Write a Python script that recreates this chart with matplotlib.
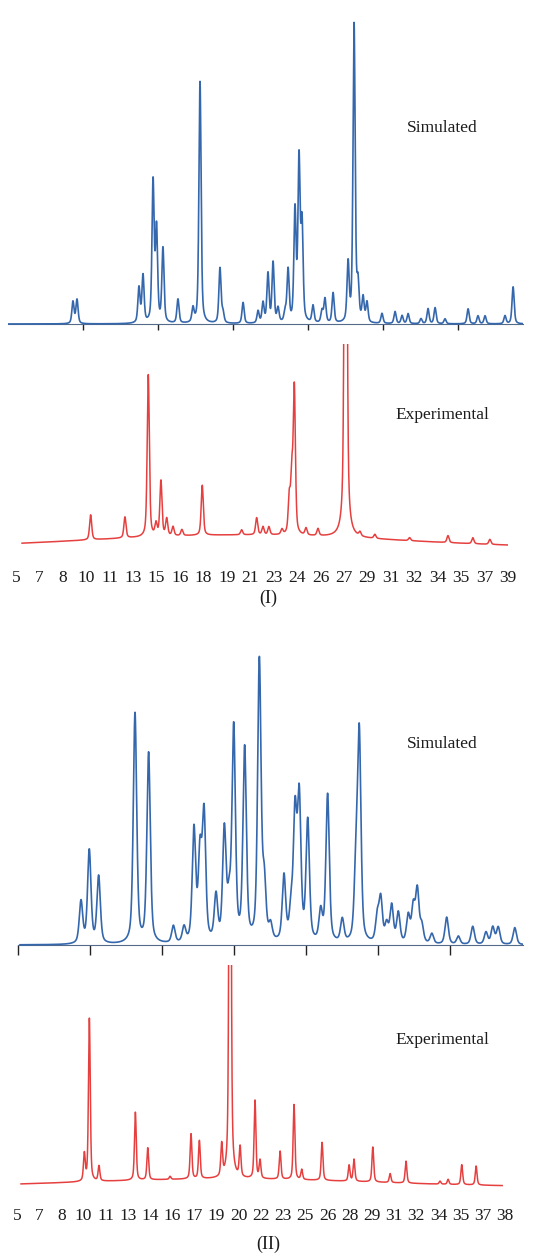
import numpy as np
import matplotlib.pyplot as plt

plt.rcParams['font.family'] = ['Liberation Serif', 'DejaVu Serif']

# ---- (I) simulated: peak positions (2theta, deg) and heights
sim1_pos = [9.33, 9.6, 13.73, 14.0, 14.67, 14.9, 15.33, 16.33, 17.33, 17.8,
            19.13, 19.33, 20.67, 21.67, 22.0, 22.33, 22.67, 23.0, 23.47, 23.67,
            24.13, 24.4, 24.6, 25.33, 25.93, 26.13, 26.67, 27.67, 28.07, 28.33,
            28.67, 28.93, 29.93, 30.8, 31.27, 31.67, 32.53, 33.0, 33.47, 34.13,
            35.67, 36.33, 36.8, 38.13, 38.67]
sim1_int = [22, 24, 35, 47, 140, 92, 74, 24, 14, 242,
            55, 10, 21, 12, 20, 49, 60, 14, 10, 52,
            110, 160, 95, 17, 12, 24, 30, 58, 298, 35,
            24, 20, 10, 12, 8, 10, 5, 15, 16, 5,
            15, 8, 8, 8, 37]

# ---- (I) experimental
exp1_pos = [10.31, 12.75, 14.41, 14.96, 15.31, 15.72, 16.17, 16.8, 18.25, 21.05,
            22.12, 22.57, 22.99, 23.92, 24.44, 24.62, 24.8, 25.63, 26.48, 28.45,
            29.47, 30.53, 33.0, 35.73, 37.5, 38.71]
exp1_int = [25, 21, 162, 12, 55, 17, 9, 6, 50, 5,
            17, 8, 8, 5, 35, 55, 145, 7, 7, 800,
            4, 4, 3, 7, 6, 5]
exp1_halo = (21.0, 13.0, 26.0)   # centre, height, fwhm of amorphous background

# ---- (II) simulated
sim2_pos = [9.375, 9.95, 10.6, 13.125, 14.07, 15.79, 16.53, 17.22, 17.64, 17.92,
            18.75, 19.33, 19.66, 19.98, 20.74, 21.76, 22.1, 22.54, 23.47, 23.96,
            24.24, 24.53, 25.12, 26.02, 26.5, 27.52, 28.47, 28.7, 29.95, 30.19,
            30.6, 30.95, 31.41, 32.1, 32.45, 32.73, 33.04, 33.74, 34.77, 35.58,
            36.58, 37.5, 37.97, 38.35, 39.5]
sim2_int = [42, 93, 67, 230, 190, 17, 15, 112, 85, 125,
            45, 110, 35, 212, 192, 280, 55, 15, 65, 28,
            124, 140, 120, 30, 148, 23, 70, 205, 25, 43,
            18, 37, 30, 27, 35, 52, 17, 10, 27, 8,
            18, 12, 17, 17, 17]

# ---- (II) experimental
exp2_pos = [9.83, 10.19, 10.88, 13.49, 14.38, 15.98, 17.48, 18.08, 19.68, 20.28,
            21.0, 22.07, 22.43, 23.87, 24.87, 25.42, 26.88, 28.82, 29.17, 30.52,
            31.76, 32.9, 35.34, 35.92, 36.9, 37.93]
exp2_int = [27, 163, 15, 68, 32, 3, 45, 38, 32, 700,
            30, 78, 18, 28, 75, 10, 38, 16, 22, 35,
            9, 22, 3, 5, 20, 19]
exp2_halo = (20.0, 8.0, 25.0)

tick_labels_1 = ['5', '7', '8', '10', '11', '13', '15', '16', '18', '19', '21',
                 '23', '24', '26', '27', '29', '31', '32', '34', '35', '37', '39']
tick_labels_2 = ['5', '7', '8', '10', '11', '13', '14', '16', '17', '19', '20', '22',
                 '23', '25', '26', '28', '29', '31', '32', '34', '35', '37', '38']

BLUE = '#3567ad'
RED = '#e5403f'
TXT = '#1c1c1c'
W, H = 538, 1253


def profile(x, pos, hgt, fwhm, eta=0.5):
    # pseudo-Voigt sum of the listed reflections
    y = np.zeros_like(x)
    for p, h in zip(pos, hgt):
        d = (x - p) / (fwhm / 2)
        y += h * (eta / (1 + d ** 2) + (1 - eta) * np.exp(-np.log(2) * d ** 2))
    return y


def halo(x, c, h, fwhm):
    return h * np.exp(-4 * np.log(2) * ((x - c) / fwhm) ** 2)


def add_ax(l, t, r, b):
    # box given in pixels from the top-left corner
    return fig.add_axes([l / W, 1 - b / H, (r - l) / W, (b - t) / H])


def label(xp, yp, s, size=12.5):
    fig.text(xp / W, 1 - yp / H, s, fontsize=size, color=TXT,
             ha='center', va='center')


fig = plt.figure(figsize=(W / 100, H / 100), dpi=100)

# ---------------- (I) simulated
ax = add_ax(8, 12, 523, 327)
x = np.arange(5.0, 39.33, 0.005)
ax.plot(x, profile(x, sim1_pos, sim1_int, 0.17), color=BLUE, lw=1.2, zorder=3)
ax.set_xlim(5, 39.33)
ax.set_ylim(-3, 312)
ax.set_xticks([10, 15, 20, 25, 30, 35])
ax.tick_params(axis='x', direction='out', length=4.5, width=1, color='#222',
               labelbottom=False)
ax.set_yticks([])
for s in ['top', 'left', 'right']:
    ax.spines[s].set_visible(False)
ax.spines['bottom'].set_position(('data', 0))
ax.spines['bottom'].set_color('#556b8a')
ax.patch.set_visible(False)

# ---------------- (I) experimental
ax = add_ax(16, 344, 508, 552)
x = np.arange(5.43, 40.0, 0.005)
y = profile(x, exp1_pos, exp1_int, 0.18) + halo(x, *exp1_halo) + 1
ax.plot(x, y, color=RED, lw=1.1)
ax.set_xlim(5, 40)
ax.set_ylim(-3, 205)
ax.set_xticks(np.linspace(5, 40, len(tick_labels_1)))
ax.set_xticklabels(tick_labels_1, fontsize=12.5, color=TXT)
ax.tick_params(axis='x', length=0, pad=13)
ax.set_yticks([])
for s in ax.spines.values():
    s.set_visible(False)
ax.patch.set_visible(False)

# ---------------- (II) simulated
ax = add_ax(18, 645, 523, 948)
x = np.arange(5.14, 40.07, 0.005)
ax.plot(x, profile(x, sim2_pos, sim2_int, 0.28), color=BLUE, lw=1.2, zorder=3)
ax.set_xlim(5, 40.07)
ax.set_ylim(-3, 300)
ax.set_xticks([5, 10, 15, 20, 25, 30, 35])
ax.tick_params(axis='x', direction='out', length=7, width=1, color='#222',
               labelbottom=False)
ax.set_yticks([])
for s in ['top', 'left', 'right']:
    ax.spines[s].set_visible(False)
ax.spines['bottom'].set_position(('data', 0))
ax.spines['bottom'].set_color('#556b8a')
ax.patch.set_visible(False)

# ---------------- (II) experimental
ax = add_ax(17, 965, 505, 1190)
x = np.arange(5.29, 39.8, 0.005)
y = profile(x, exp2_pos, exp2_int, 0.15) + halo(x, *exp2_halo)
ax.plot(x, y, color=RED, lw=1.1)
ax.set_xlim(5, 40)
ax.set_ylim(-3, 222)
ax.set_xticks(np.linspace(5, 40, len(tick_labels_2)))
ax.set_xticklabels(tick_labels_2, fontsize=12.5, color=TXT)
ax.tick_params(axis='x', length=0, pad=13)
ax.set_yticks([])
for s in ax.spines.values():
    s.set_visible(False)
ax.patch.set_visible(False)

# panel captions and labels (pixel positions from the top)
label(442, 128, 'Simulated')
label(442, 415, 'Experimental')
label(442, 744, 'Simulated')
label(442, 1040, 'Experimental')
label(268, 598, '(I)', 13)
label(268, 1244, '(II)', 13)

fig.savefig('out.png', dpi=100)
